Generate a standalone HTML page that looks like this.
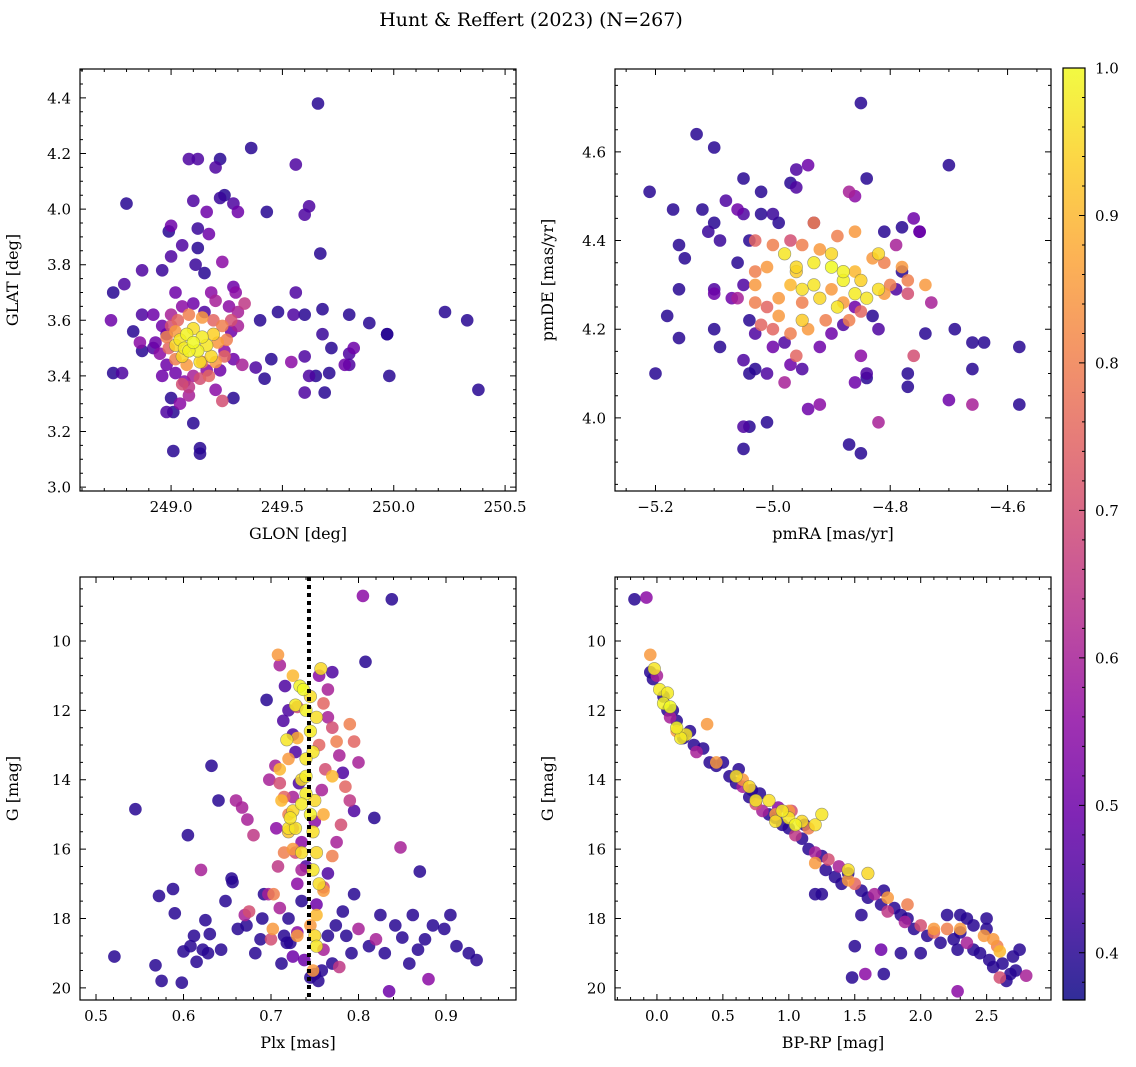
<!DOCTYPE html>
<html><head><meta charset="utf-8"><style>
html,body{margin:0;padding:0;background:#fff}
svg{display:block;font-family:"DejaVu Serif","Liberation Serif",serif}
</style></head><body>
<svg id="fig" width="1136" height="1067" viewBox="0 0 1136 1067" xmlns="http://www.w3.org/2000/svg">
<text x="531" y="26" text-anchor="middle" font-size="19">Hunt &amp; Reffert (2023) (N=267)</text>
</svg>
<script>
// ---------- data ----------
const p1_glon=[249.66,249.08,249.12,249.22,249.36,249.20,249.56,248.80,249.10,249.16,249.22,249.24,249.28,249.30,249.43,249.62,249.60,249.00,248.99,249.12,249.17,249.12,249.05,249.00,249.11,249.23,249.67,248.74,248.79,248.87,248.96,249.15,249.28,249.29,249.56,248.73,248.83,248.87,248.92,248.86,248.92,248.87,249.40,249.48,249.55,249.60,249.68,249.68,249.80,249.97,249.89,249.97,249.98,250.23,250.33,250.38,249.72,249.82,249.80,249.71,249.78,249.80,249.45,249.54,249.60,249.62,249.65,249.69,249.60,249.42,249.38,249.28,248.74,248.78,249.00,249.04,248.98,249.01,249.10,249.13,249.13,249.01,249.20,249.23,249.08,
248.96,248.98,249.00,249.05,249.10,249.15,249.20,249.26,249.30,249.33,249.30,249.27,249.24,249.28,249.32,249.22,249.16,249.10,249.06,249.02,248.98,248.95,248.93,249.02,249.18,249.08,249.13,248.96,
249.00,249.03,249.08,249.14,249.19,249.23,249.25,249.24,249.20,249.14,249.07,249.02,248.99,248.98,249.02,249.21,249.05,249.17,249.27,
249.04,249.06,249.07,249.10,249.12,249.14,249.16,249.10,249.05,249.18,249.13,249.02,249.19,249.08];
const p1_glat=[4.38,4.18,4.18,4.18,4.22,4.15,4.16,4.02,4.03,3.99,4.04,4.05,4.02,3.99,3.99,4.01,3.98,3.94,3.92,3.93,3.91,3.86,3.87,3.83,3.80,3.81,3.84,3.70,3.73,3.78,3.78,3.77,3.72,3.70,3.70,3.60,3.56,3.62,3.62,3.52,3.50,3.49,3.60,3.63,3.62,3.62,3.55,3.64,3.62,3.55,3.59,3.55,3.40,3.63,3.60,3.35,3.50,3.50,3.48,3.41,3.44,3.44,3.46,3.45,3.47,3.40,3.40,3.34,3.34,3.39,3.43,3.32,3.41,3.41,3.32,3.30,3.27,3.27,3.23,3.14,3.12,3.13,3.35,3.31,3.33,
3.58,3.55,3.62,3.65,3.66,3.63,3.67,3.65,3.63,3.66,3.58,3.56,3.49,3.46,3.44,3.42,3.42,3.40,3.38,3.41,3.44,3.48,3.52,3.70,3.70,3.36,3.39,3.40,
3.58,3.60,3.62,3.61,3.60,3.58,3.53,3.47,3.45,3.45,3.44,3.46,3.50,3.54,3.56,3.52,3.37,3.40,3.60,
3.53,3.50,3.55,3.52,3.49,3.54,3.51,3.57,3.47,3.47,3.45,3.51,3.55,3.49];
const p1_prob=[.4,.45,.45,.4,.4,.45,.45,.4,.45,.5,.42,.4,.45,.5,.4,.45,.45,.5,.4,.42,.5,.4,.45,.45,.42,.55,.4,.4,.45,.45,.42,.4,.5,.55,.45,.5,.4,.45,.5,.55,.45,.4,.4,.4,.45,.4,.42,.4,.4,.4,.4,.4,.4,.4,.4,.4,.4,.5,.45,.4,.5,.45,.4,.55,.45,.45,.4,.4,.45,.4,.45,.4,.4,.45,.4,.55,.45,.4,.4,.4,.4,.4,.55,.7,.6,
.5,.45,.6,.55,.5,.45,.6,.55,.6,.65,.6,.5,.55,.5,.6,.5,.55,.6,.55,.5,.5,.55,.5,.5,.55,.65,.7,.5,
.7,.75,.8,.85,.75,.8,.8,.75,.85,.8,.85,.8,.75,.8,.85,.85,.7,.75,.7,
.97,.98,.99,1,.99,.98,.97,.96,.95,.95,.96,.95,.94,.99];

const p2_pmra=[-4.85,-5.13,-5.10,-5.21,-4.70,-4.96,-4.94,-4.97,-5.05,-4.84,-5.02,-4.96,-5.17,-5.12,-5.10,-5.11,-5.08,-5.06,-5.05,-5.02,-5.00,-4.99,-4.93,-4.87,-4.86,-4.78,-4.76,-4.75,-5.09,-5.16,-5.15,-5.16,-5.18,-5.16,-5.20,-5.10,-5.10,-5.10,-5.09,-5.05,-5.03,-5.04,-5.01,-4.97,-4.95,-4.98,-5.04,-5.05,-5.05,-5.01,-4.94,-4.92,-4.87,-4.85,-4.82,-4.84,-4.84,-4.86,-4.85,-4.77,-4.76,-4.77,-4.70,-4.66,-4.66,-4.64,-4.66,-4.58,-4.58,-4.69,-4.74,-4.79,-4.78,-4.75,-4.81,-4.83,-4.82,-4.79,-4.73,-4.77,
-5.04,-5.06,-5.05,-5.07,-5.04,-5.03,-5.00,-4.98,-4.92,-4.90,-4.88,-4.86,-5.06,
-5.03,-5.00,-4.97,-4.95,-4.92,-4.89,-4.86,-4.83,-4.81,-4.78,-4.80,-4.81,-4.74,-4.77,-4.86,-4.88,-4.85,-4.87,-4.91,-4.94,-4.97,-5.00,-5.02,-5.03,-5.03,-5.01,-5.03,-4.99,-4.97,-5.01,-4.95,-4.99,-4.96,-4.93,-4.90,
-4.98,-4.96,-4.93,-4.90,-4.88,-4.86,-4.84,-4.82,-4.93,-4.95,-4.92,-4.89,-4.85,-4.96,-4.90,-4.88,-4.82,-4.95];
const p2_pmde=[4.71,4.64,4.61,4.51,4.57,4.56,4.57,4.53,4.54,4.54,4.51,4.52,4.47,4.47,4.44,4.42,4.49,4.47,4.46,4.46,4.46,4.44,4.44,4.51,4.50,4.43,4.45,4.42,4.40,4.39,4.36,4.29,4.23,4.18,4.10,4.29,4.28,4.20,4.16,4.13,4.11,4.10,4.10,4.12,4.11,4.08,3.98,3.98,3.93,3.99,4.02,4.03,3.94,3.92,3.99,4.09,4.10,4.08,4.14,4.07,4.14,4.10,4.04,4.03,4.11,4.17,4.17,4.16,4.03,4.20,4.19,4.29,4.33,4.42,4.42,4.23,4.20,4.39,4.26,4.28,
4.40,4.35,4.30,4.27,4.22,4.19,4.16,4.17,4.16,4.19,4.21,4.25,4.27,
4.40,4.39,4.40,4.39,4.38,4.41,4.42,4.36,4.35,4.34,4.30,4.28,4.30,4.31,4.33,4.26,4.24,4.22,4.22,4.20,4.19,4.20,4.21,4.26,4.30,4.34,4.33,4.27,4.30,4.25,4.26,4.23,4.14,4.44,4.29,
4.37,4.34,4.35,4.34,4.31,4.28,4.27,4.29,4.30,4.29,4.27,4.25,4.31,4.33,4.37,4.33,4.37,4.22];
const p2_prob=[.4,.4,.4,.4,.4,.45,.5,.4,.4,.4,.4,.45,.4,.4,.4,.42,.45,.5,.45,.4,.42,.4,.45,.6,.55,.4,.5,.45,.42,.4,.4,.4,.4,.4,.4,.45,.5,.4,.4,.45,.4,.4,.45,.5,.45,.6,.4,.45,.4,.4,.5,.55,.4,.4,.6,.4,.45,.5,.55,.4,.7,.4,.5,.6,.4,.4,.4,.4,.4,.4,.4,.45,.4,.5,.4,.4,.45,.6,.6,.7,
.4,.4,.45,.5,.4,.45,.5,.45,.5,.5,.45,.5,.6,
.75,.8,.7,.8,.85,.8,.85,.85,.8,.85,.8,.85,.85,.8,.9,.85,.75,.8,.8,.85,.8,.75,.75,.8,.85,.85,.8,.85,.9,.75,.8,.85,.75,.8,.85,
.97,.95,.98,1,.99,.98,.97,.96,.97,.96,.95,.97,.94,.93,.95,.99,.95,.93];

const p3_plx=[0.521,0.545,0.568,0.572,0.575,0.588,0.59,0.598,0.600,0.605,0.608,0.612,0.615,0.62,0.622,0.625,0.628,0.63,0.632,0.640,0.643,0.648,0.655,0.656,0.660,0.662,0.667,0.670,0.672,0.673,0.675,0.680,0.682,0.688,0.690,0.692,0.695,0.697,0.698,0.700,0.703,0.706,0.708,0.710,0.712,0.715,0.718,0.720,0.722,0.725,0.730,0.735,0.738,0.745,0.750,0.754,0.758,0.760,0.765,0.770,0.774,0.778,0.782,0.786,0.792,0.795,0.800,0.805,0.808,0.812,0.818,0.820,0.825,0.830,0.835,0.838,0.842,0.848,0.850,0.858,0.862,0.868,0.870,0.876,0.880,0.885,0.898,0.905,0.912,0.926,0.935,
0.71,0.714,0.716,0.72,0.725,0.728,0.732,0.705,0.71,0.715,0.72,0.725,0.728,0.735,0.755,0.76,0.765,0.77,0.775,0.778,0.782,0.785,0.79,0.795,0.78,0.775,0.77,0.765,0.76,0.752,0.77,0.765,0.79,0.795,0.8,0.73,0.74,0.75,0.758,0.762,0.755,0.73,0.725,0.735,
0.708,0.712,0.72,0.725,0.73,0.715,0.725,0.73,0.71,0.72,0.702,0.76,0.77,0.76,0.745,0.748,0.752,
0.718,0.728,0.733,0.737,0.74,0.745,0.748,0.752,0.757,0.74,0.735,0.74,0.745,0.725,0.72,0.728,0.735,0.748,0.752,0.748,0.755,0.75,0.752,0.735,0.722,0.74,0.745,0.75];
const p3_g=[19.1,14.85,19.35,17.35,19.8,17.15,17.85,19.85,18.95,15.6,18.8,18.5,19.25,16.6,18.9,18.05,19.0,18.45,13.6,14.6,18.9,17.5,16.85,16.95,14.6,18.3,14.8,17.9,18.2,15.15,17.8,15.6,19.0,18.6,18.0,17.3,11.7,17.3,14.0,18.6,17.3,15.4,16.5,17.7,19.3,18.5,18.7,18.0,18.7,19.1,18.4,17.5,19.2,19.7,19.6,19.8,19.5,18.9,18.5,19.3,18.2,19.4,17.8,18.5,19.0,17.3,18.3,8.7,10.6,18.8,15.1,18.6,17.9,19.0,20.1,8.8,18.2,15.95,18.55,19.3,17.9,18.9,16.65,18.6,19.75,18.2,18.3,17.9,18.8,19.0,19.2,
10.7,12.3,11.3,12.0,12.7,13.2,14.1,13.6,14.1,14.5,15.0,15.4,16.1,16.6,11.0,11.8,12.2,12.5,12.9,13.3,13.8,14.2,14.6,14.9,15.3,15.8,16.2,16.7,17.1,17.6,10.9,11.4,12.4,12.9,13.5,17.0,16.5,15.2,14.3,13.7,13.0,11.9,14.5,15.8,
10.4,14.6,13.4,16.0,18.5,16.1,11.0,12.8,13.7,15.5,18.3,15.0,13.9,17.2,18.2,19.5,17.9,
12.85,11.85,11.3,11.4,12.0,12.6,13.2,12.2,10.8,13.4,14.0,14.4,15.0,14.9,15.4,15.4,14.7,15.5,16.1,16.6,17.0,18.5,18.8,16.1,15.1,13.9,11.6,14.6];
const p3_prob=[.4,.4,.4,.4,.4,.4,.4,.4,.4,.4,.4,.4,.4,.6,.4,.4,.4,.4,.4,.4,.4,.4,.4,.4,.6,.4,.6,.6,.4,.6,.7,.65,.4,.4,.4,.4,.4,.6,.6,.7,.8,.55,.65,.6,.4,.4,.4,.4,.4,.5,.55,.4,.5,.4,.4,.4,.4,.6,.4,.4,.4,.65,.4,.4,.4,.4,.6,.55,.4,.4,.4,.6,.4,.4,.5,.4,.4,.6,.4,.4,.4,.4,.4,.4,.55,.4,.4,.4,.4,.4,.4,
.6,.45,.45,.45,.45,.45,.45,.6,.7,.75,.8,.65,.7,.6,.55,.75,.6,.7,.8,.6,.45,.75,.65,.45,.7,.6,.8,.45,.7,.5,.45,.6,.8,.75,.6,.55,.45,.55,.6,.7,.75,.7,.6,.55,
.85,.9,.85,.85,.85,.8,.9,.88,.9,.92,.85,.88,.9,.85,.85,.85,.9,
.97,.98,.99,1,.99,.98,.97,.96,.95,.97,.96,.98,.99,.95,.96,.97,.98,.96,.95,.97,.96,.95,.97,.96,.97,.98,.96,.95];

const p4_bprp=[-0.17,-0.08,-0.05,-0.03,0.0,0.05,0.08,0.1,0.12,0.15,0.2,0.25,0.28,0.3,0.35,0.38,0.4,0.45,0.5,0.55,0.6,0.62,0.65,0.7,0.72,0.75,0.78,0.8,0.85,0.9,0.92,0.95,1.0,1.02,1.05,1.1,1.12,1.15,1.2,1.25,1.28,1.3,1.35,1.38,1.4,1.45,1.5,1.55,1.6,1.65,1.7,1.72,1.75,1.8,1.85,1.88,1.9,1.95,2.0,2.05,2.1,2.15,2.2,2.25,2.28,2.3,2.35,2.4,2.45,2.48,2.5,2.52,2.55,2.58,2.6,2.62,2.65,2.68,2.7,2.72,2.75,2.8,2.3,2.35,2.5,2.0,1.85,1.7,1.48,1.58,1.72,1.5,2.28,1.2,1.25,1.55,2.2,2.4,
-0.05,0.15,0.45,0.65,0.9,1.15,1.2,1.45,1.75,1.9,2.1,2.3,2.55,2.6,1.0,
-0.02,0.02,0.05,0.1,0.15,0.18,0.22,0.6,0.7,0.75,0.85,0.95,1.05,1.1,1.2,1.25,0.08,1.45,1.6,1.0,0.9];
const p4_g=[8.8,8.75,10.9,11.1,11.0,11.6,12.0,12.2,12.0,12.3,12.8,12.6,13.0,13.2,13.1,12.4,13.5,13.6,13.5,13.9,14.1,13.7,14.2,14.5,14.3,14.7,14.4,14.9,15.0,15.1,14.8,15.3,15.4,14.9,15.6,15.7,15.3,16.0,16.1,16.2,16.6,16.3,16.8,16.5,17.0,16.7,17.0,17.2,17.4,17.3,17.6,17.2,17.8,17.7,17.9,18.1,18.0,18.3,18.2,18.5,18.4,18.7,18.3,18.6,18.9,18.4,18.7,18.9,19.0,18.5,18.3,19.2,19.4,18.8,19.7,19.3,19.8,19.6,19.1,19.5,18.9,19.65,17.9,18.0,18.0,19.0,19.0,18.9,19.7,19.6,19.6,18.8,20.1,17.3,17.3,17.9,17.9,18.2,
10.4,12.6,13.5,14.0,15.0,15.4,16.4,16.9,17.4,17.6,18.3,18.3,18.6,18.95,14.9,
10.8,11.4,11.8,11.9,12.5,12.8,12.7,13.9,14.2,14.6,14.6,14.9,15.3,15.2,15.3,15.0,11.5,16.6,16.7,15.1,15.2];
const p4_prob=[.4,.55,.4,.4,.6,.4,.4,.6,.4,.4,.4,.4,.4,.6,.4,.85,.4,.4,.4,.4,.4,.4,.6,.4,.4,.7,.4,.6,.4,.4,.55,.4,.4,.7,.65,.4,.4,.4,.6,.4,.4,.7,.4,.6,.4,.4,.75,.4,.4,.6,.4,.4,.65,.4,.4,.6,.4,.4,.7,.4,.75,.4,.8,.4,.4,.4,.6,.4,.4,.85,.4,.4,.4,.8,.7,.4,.4,.4,.4,.4,.4,.6,.4,.4,.4,.4,.4,.5,.4,.55,.4,.4,.55,.4,.4,.4,.4,.4,
.85,.85,.85,.85,.85,.8,.85,.85,.85,.8,.85,.85,.85,.9,.85,
.97,.98,.99,1,.99,.98,.97,.96,.95,.97,.96,.98,.99,.95,.96,.97,.98,.96,.95,.97,.96];

const cbar_ticks=[0.4,0.5,0.6,0.7,0.8,0.9,1.0];

// ---------- helpers ----------
const NS="http://www.w3.org/2000/svg";
const svg=document.getElementById('fig');
function mk(tag,attrs,parent){const e=document.createElementNS(NS,tag);for(const k in attrs)e.setAttribute(k,attrs[k]);(parent||svg).appendChild(e);return e;}
const plasma=[[13,8,135],[65,4,157],[106,0,168],[143,13,164],[177,42,144],[204,71,120],[225,100,98],[242,132,75],[252,166,54],[252,206,37],[240,249,33]];
const VMIN=0.368,VMAX=1.0;
function cmap(v){let t=(v-VMIN)/(VMAX-VMIN);t=Math.max(0,Math.min(1,t))*10;const i=Math.min(9,Math.floor(t)),f=t-i;const a=plasma[i],b=plasma[i+1];return `rgb(${Math.round(a[0]+(b[0]-a[0])*f)},${Math.round(a[1]+(b[1]-a[1])*f)},${Math.round(a[2]+(b[2]-a[2])*f)})`;}
function lin(d0,d1,r0,r1){return v=>r0+(v-d0)*(r1-r0)/(d1-d0);}
function fmt(v,d){return (v<0?'\u2212':'')+Math.abs(v).toFixed(d);}

function panel(o){
  const g=mk('g',{});
  
  
  const X=lin(o.xd[0],o.xd[1],o.L,o.R), Y=lin(o.yd[0],o.yd[1],o.B,o.T);
  const idx=o.xs.map((_,i)=>i).sort((a,b)=>o.ps[a]-o.ps[b]);
  const pg=mk('g',{},g);
  
  
  for(const i of idx){
    const c=mk('circle',{cx:X(o.xs[i]).toFixed(1),cy:Y(o.ys[i]).toFixed(1),r:6.3,fill:cmap(o.ps[i]),'fill-opacity':0.85,stroke:o.ps[i]>0.9?'rgba(90,90,90,0.6)':'none','stroke-width':0.6},pg);
    
    
  }
  if(o.vline!==undefined){
    const l=mk('line',{x1:X(o.vline),x2:X(o.vline),y1:o.T,y2:o.B,stroke:'#000','stroke-width':4,'stroke-dasharray':'4 4'},g);
    
    
  }
  const fr=mk('rect',{x:o.L,y:o.T,width:o.R-o.L,height:o.B-o.T,fill:'none',stroke:'#000','stroke-width':1.2},g);
  
  
  let tp='';
  const eps=1e-6;
  const xlo=Math.min(...o.xd),xhi=Math.max(...o.xd);
  for(let v=Math.ceil(xlo/o.xmin-eps)*o.xmin;v<=xhi+eps;v+=o.xmin){const x=X(v);tp+=`M${x},${o.B}v-3M${x},${o.T}v3`;}
  for(let v=Math.ceil(xlo/o.xmaj-eps)*o.xmaj;v<=xhi+eps;v+=o.xmaj){const x=X(v);tp+=`M${x},${o.B}v-6M${x},${o.T}v6`;
    const t=mk('text',{x:x,y:o.B+21,'text-anchor':'middle','font-size':15},g);t.textContent=fmt(v,o.xdec);
    }
  const ylo=Math.min(...o.yd),yhi=Math.max(...o.yd);
  for(let v=Math.ceil(ylo/o.ymin-eps)*o.ymin;v<=yhi+eps;v+=o.ymin){const y=Y(v);tp+=`M${o.L},${y}h3M${o.R},${y}h-3`;}
  for(let v=Math.ceil(ylo/o.ymaj-eps)*o.ymaj;v<=yhi+eps;v+=o.ymaj){const y=Y(v);tp+=`M${o.L},${y}h6M${o.R},${y}h-6`;
    const t=mk('text',{x:o.L-9,y:y+5.5,'text-anchor':'end','font-size':15},g);t.textContent=fmt(v,o.ydec);
    }
  mk('path',{d:tp,stroke:'#000','stroke-width':1,fill:'none'},g);
  const xl=mk('text',{x:(o.L+o.R)/2,y:o.B+48,'text-anchor':'middle','font-size':16},g);xl.textContent=o.xlabel;
  
  const yx=o.L-62, yy=(o.T+o.B)/2;
  const yl=mk('text',{x:yx,y:yy,'text-anchor':'middle','font-size':16,transform:`rotate(-90 ${yx} ${yy})`},g);yl.textContent=o.ylabel;
  
}

panel({name:'glon-glat-panel',L:80,R:516,T:69,B:491,xd:[248.591,250.549],yd:[2.986,4.504],xs:p1_glon,ys:p1_glat,ps:p1_prob,xmaj:0.5,xmin:0.1,ymaj:0.2,ymin:0.05,xdec:1,ydec:1,xlabel:'GLON [deg]',ylabel:'GLAT [deg]'});
panel({name:'proper-motion-panel',L:615,R:1051,T:69,B:491,xd:[-5.269,-4.526],yd:[3.835,4.787],xs:p2_pmra,ys:p2_pmde,ps:p2_prob,xmaj:0.2,xmin:0.05,ymaj:0.2,ymin:0.05,xdec:1,ydec:1,xlabel:'pmRA [mas/yr]',ylabel:'pmDE [mas/yr]'});
panel({name:'parallax-mag-panel',L:80,R:516,T:577,B:1000,xd:[0.4817,0.9800],yd:[20.35,8.156],xs:p3_plx,ys:p3_g,ps:p3_prob,xmaj:0.1,xmin:0.02,ymaj:2,ymin:0.5,xdec:1,ydec:0,xlabel:'Plx [mas]',ylabel:'G [mag]',vline:0.7434});
panel({name:'cmd-panel',L:615,R:1051,T:577,B:1000,xd:[-0.318,2.988],yd:[20.35,8.156],xs:p4_bprp,ys:p4_g,ps:p4_prob,xmaj:0.5,xmin:0.1,ymaj:2,ymin:0.5,xdec:1,ydec:0,xlabel:'BP-RP [mag]',ylabel:'G [mag]'});

// colorbar
const cb=mk('g',{});


const defs=mk('defs',{},cb);
const lg=mk('linearGradient',{id:'cbg',x1:0,y1:1,x2:0,y2:0},defs);
for(let i=0;i<=20;i++){const v=VMIN+(VMAX-VMIN)*i/20;mk('stop',{offset:i/20,'stop-color':cmap(v),'stop-opacity':0.85},lg);}
const CT=68,CB=1000,CL=1063,CR=1085;
const CY=lin(VMIN,VMAX,CB,CT);
mk('rect',{x:CL,y:CT,width:CR-CL,height:CB-CT,fill:'url(#cbg)',stroke:'#000','stroke-width':1.2},cb);
let cp='';
for(let v=0.38;v<=1.0001;v+=0.02){cp+=`M${CR},${CY(v)}h-3`;}
for(const v of cbar_ticks){const y=CY(v);cp+=`M${CR},${y}h-6`;
  const t=mk('text',{x:CR+10,y:y+5.5,'font-size':15},cb);t.textContent=v.toFixed(1);
  }
mk('path',{d:cp,stroke:'#000','stroke-width':1},cb);
</script>
</body></html>
